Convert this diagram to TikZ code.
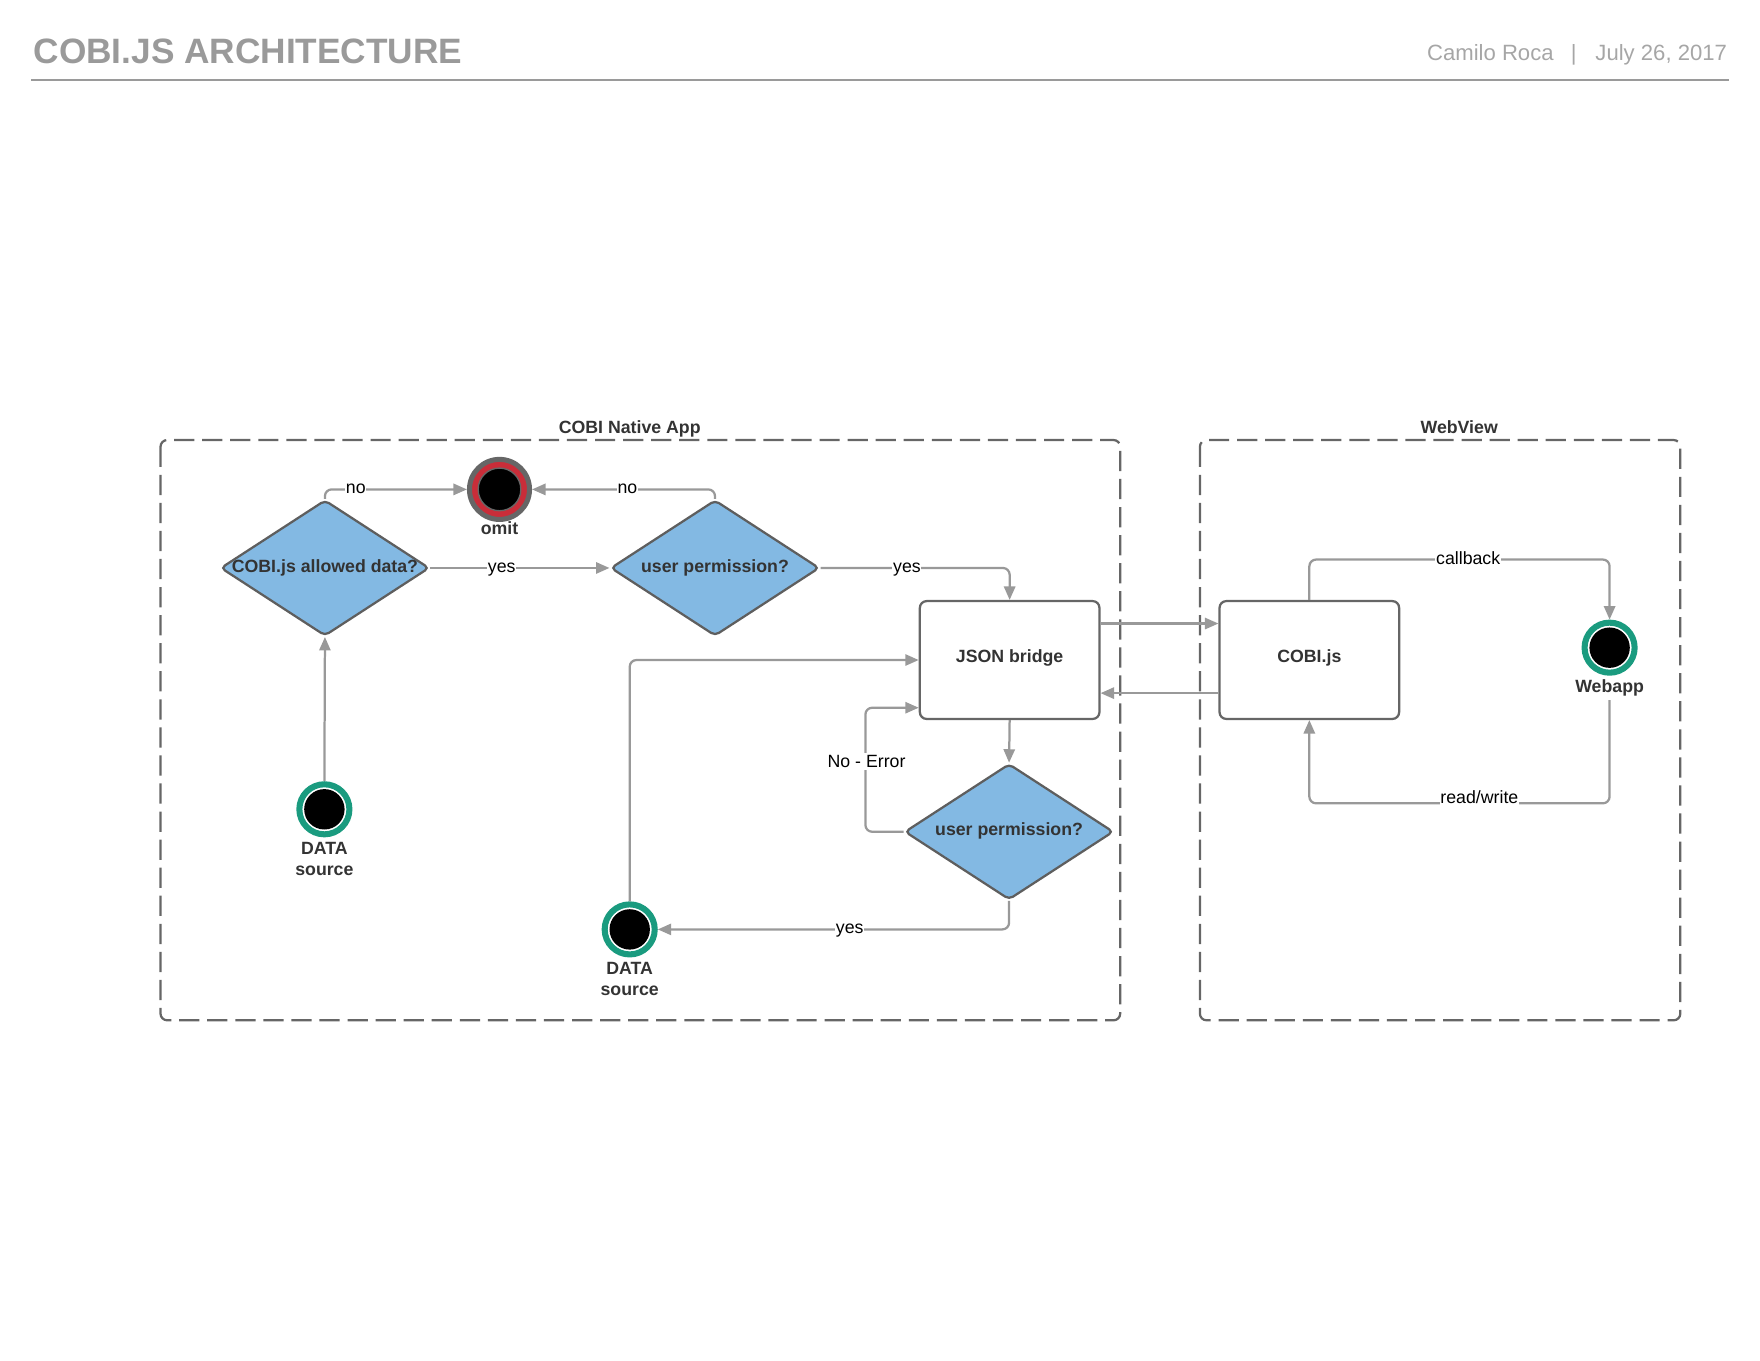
\documentclass[tikz,border=0pt]{standalone}
\usepackage{fontspec}
\setmainfont{Liberation Sans}
\usetikzlibrary{shapes.geometric,arrows.meta,calc}
\definecolor{cgray}{HTML}{999999}
\definecolor{hgray}{HTML}{9A9A9A}
\definecolor{hlight}{HTML}{A6A6A6}
\definecolor{bborder}{HTML}{666666}
\definecolor{dborder}{HTML}{5E5E5E}
\definecolor{dfill}{HTML}{83B9E3}
\definecolor{tealc}{HTML}{1A9B7F}
\definecolor{redc}{HTML}{C92D39}
\definecolor{txt}{HTML}{333333}
\begin{document}
\begin{tikzpicture}[x=0.5pt,y=-0.5pt,
  conn/.style={draw=cgray, line width=1pt, rounded corners=3pt, -{Triangle[length=6pt,width=5pt]}},
  dia/.style={diamond, draw=dborder, fill=dfill, line width=1pt, minimum width=93pt, minimum height=60.5pt, inner sep=0pt, rounded corners=2pt},
  box/.style={rectangle, draw=bborder, fill=white, line width=1pt, minimum width=80pt, minimum height=52.5pt, inner sep=0pt, rounded corners=3pt},
  grp/.style={draw=bborder, line width=1pt, dash pattern=on 9pt off 3.5pt, rounded corners=3pt},
  btext/.style={font=\fontsize{7.9pt}{9.5pt}\selectfont\bfseries, text=txt, inner sep=0pt, anchor=base},
  ltext/.style={font=\fontsize{7.9pt}{9.5pt}\selectfont, text=black, fill=white, inner xsep=0.3pt, inner ysep=1pt, anchor=base},
  term/.style={circle, draw=tealc, line width=2.7pt, fill=white, minimum size=22.3pt, inner sep=0pt},
  omitc/.style={circle, draw=bborder, line width=2.25pt, fill=redc, minimum size=26.75pt, inner sep=0pt}
]
\useasboundingbox (0,0) rectangle (1568,1212);

% header
\node[font=\fontsize{15.7pt}{18pt}\selectfont\bfseries, text=hgray, anchor=base west, inner sep=0pt] (title) at (29.5,56.4) {COBI.JS ARCHITECTURE};
\node[font=\fontsize{9.85pt}{12pt}\selectfont, text=hlight, anchor=base west, inner sep=0pt] (author) at (1271,54) {Camilo Roca};
\node[font=\fontsize{9.85pt}{12pt}\selectfont, text=hlight, anchor=base, inner sep=0pt] (sep) at (1402,54) {|};
\node[font=\fontsize{9.85pt}{12pt}\selectfont, text=hlight, anchor=base east, inner sep=0pt] (date) at (1539,54) {July 26, 2017};
\draw[draw=hgray, line width=0.9pt] (28,71.3) -- (1540,71.3);

% groups
\draw[grp] (143,392) rectangle (998,909);
\draw[grp] (1069,392) rectangle (1497,909);
\node[btext] (gnative) at (561,386.6) {COBI Native App};
\node[btext] (gweb) at (1300,386.6) {WebView};

% nodes
\node[dia] (d1) at (289.5,506) {};
\node[btext] (t1) at (289.5,509.6) {COBI.js allowed data?};
\node[dia] (d2) at (637,506) {};
\node[btext] (t2) at (637,509.6) {user permission?};
\node[dia] (d3) at (899,741) {};
\node[btext] (t3) at (899,744.6) {user permission?};

\node[box] (json) at (899.5,588) {};
\node[btext] (tjson) at (899.5,590.6) {JSON bridge};
\node[box] (cobi) at (1166.5,588) {};
\node[btext] (tcobi) at (1166.5,590.6) {COBI.js};

\node[omitc] (omit) at (445,436) {};
\fill[black, draw=bborder, line width=0.6pt] (omit.center) circle (9.5pt);
\node[btext] (lomit) at (445,476) {omit};

\node[term] (ds1) at (289,721) {};
\fill[black] (ds1.center) circle (9pt);
\node[btext] (lds1a) at (289,761) {DATA};
\node[btext] (lds1b) at (289,780) {source};

\node[term] (ds2) at (561,828) {};
\fill[black] (ds2.center) circle (9pt);
\node[btext] (lds2a) at (561,868) {DATA};
\node[btext] (lds2b) at (561,887) {source};

\node[term] (web) at (1434,577) {};
\fill[black] (web.center) circle (9pt);
\node[btext] (lweb) at (1434,617) {Webapp};

% connectors
\draw[conn] (ds1.north) -- (d1.south);
\draw[conn] (d1.north) |- (omit.west);
\draw[conn] (d2.north) |- (omit.east);
\draw[conn] (d1.east) -- (d2.west);
\draw[conn] (d2.east) -| (json.north);
\draw[conn] (json.south) -- (d3.north);
\draw[conn] (d3.south) |- (ds2.east);
\draw[conn] (d3.west) -- ++(-34,0) |- ($(json.south west)+(0,-11)$);
\draw[conn] (ds2.north) |- (json.west);
\draw[conn] ($(json.north east)+(0,21)$) -- ($(cobi.north west)+(0,21)$);
\draw[conn] ($(cobi.south west)+(0,-24)$) -- ($(json.south east)+(0,-24)$);
\draw[conn] (cobi.north) -- ++(0,-36) -| (web.north);
\draw[conn] ([yshift=-1.5pt]lweb.south) -- ++(0,92) -| (cobi.south);

% connector labels
\node[ltext] (lno1) at (317,440) {no};
\node[ltext] (lno2) at (559,440) {no};
\node[ltext] (lyes1) at (447,510) {yes};
\node[ltext] (lyes2) at (808,510) {yes};
\node[ltext] (lyes3) at (757,832) {yes};
\node[ltext] (lerr) at (772,683.5) {No - Error};
\node[ltext] (lcb) at (1308,503) {callback};
\node[ltext] (lrw) at (1318,716) {read/write};
\end{tikzpicture}
\end{document}
